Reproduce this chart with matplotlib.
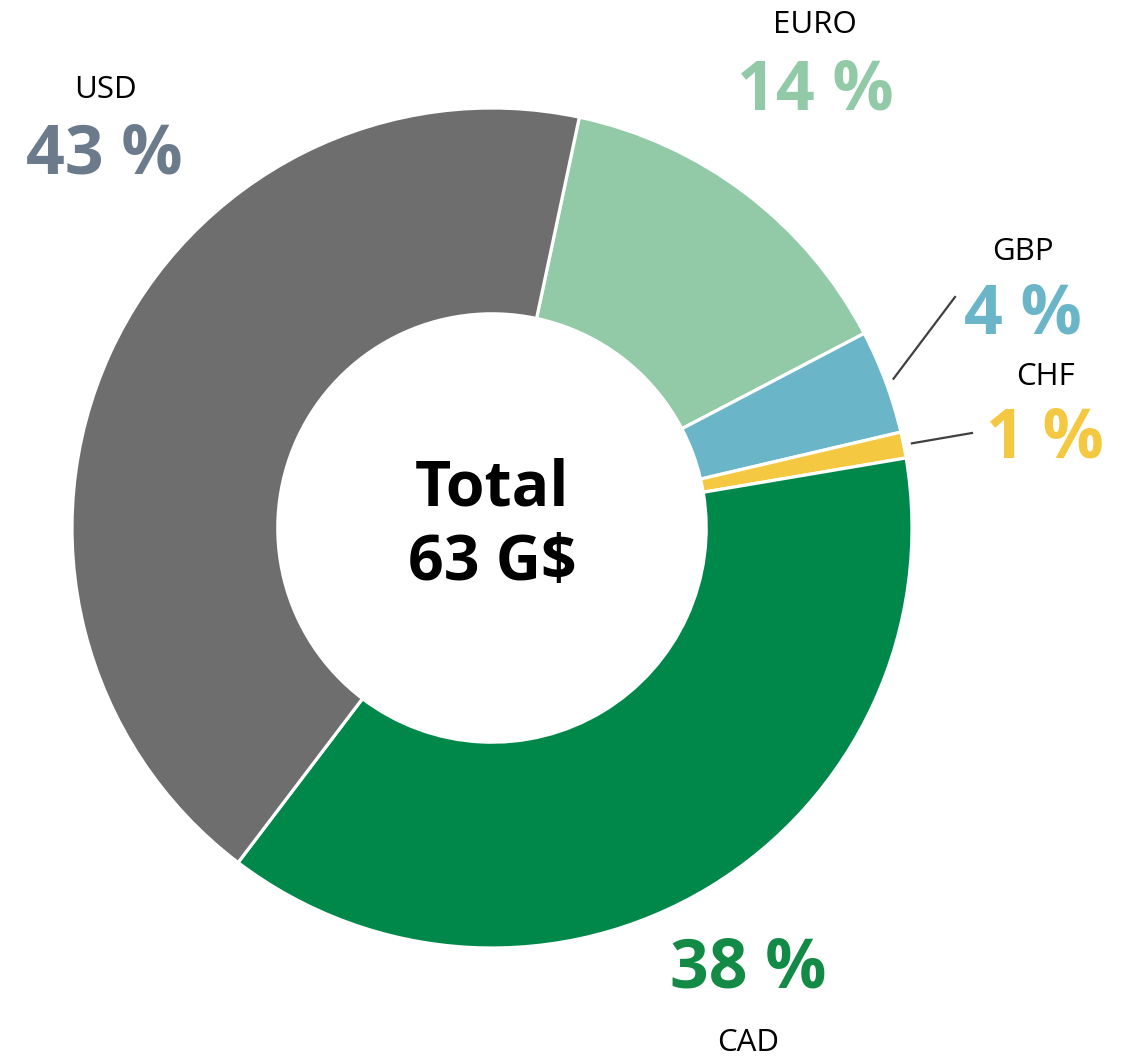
import numpy as np
import matplotlib.pyplot as plt

# parts du total, dans l'ordre horaire à partir du haut
devises = ["EURO", "GBP", "CHF", "CAD", "USD"]
parts = [14, 4, 1, 38, 43]
couleurs = ["#92CAA8", "#6BB5C8", "#F5C842", "#00884A", "#6E6E6E"]
couleurs_txt = ["#92CAA8", "#6BB5C8", "#F5C842", "#138A45", "#6C7B8B"]
total_txt = "Total\n63 G$"

plt.rcParams["font.family"] = ["Open Sans", "DejaVu Sans"]

W, H = 1127, 1060
fig = plt.figure(figsize=(W / 100, H / 100), dpi=100)
ax = fig.add_axes([0, 0, 1, 1])

cx, cy, R = 492, H - 528, 420
start = 78
wedges, _ = ax.pie(
    parts, colors=couleurs, startangle=start, counterclock=False,
    center=(cx, cy), radius=R, frame=True,
    wedgeprops=dict(width=R * 0.49, edgecolor="white", linewidth=2.3),
)
ax.set_xlim(0, W)
ax.set_ylim(0, H)
ax.set_aspect("equal")
ax.axis("off")

ax.text(cx, cy + 2, total_txt, ha="center", va="center", fontsize=45,
        fontweight="bold", color="black", linespacing=1.25)

# positions des étiquettes (nom, pourcentage) en pixels image
pos_nom = {"USD": (105, 90), "EURO": (815, 25), "GBP": (1023, 252),
           "CHF": (1046, 377), "CAD": (748, 1043)}
pos_pct = {"USD": (104, 155), "EURO": (815, 91), "GBP": (1023, 316),
           "CHF": (1045, 440), "CAD": (748, 969)}
fin_ligne = {"GBP": (955, 297), "CHF": (972, 433)}

for i, d in enumerate(devises):
    nx, ny = pos_nom[d]
    px, py = pos_pct[d]
    ax.text(nx, H - ny, d, ha="center", va="center", fontsize=22.5, color="black")
    ax.text(px, H - py, f"{parts[i]} %", ha="center", va="center", fontsize=49,
            fontweight="bold", color=couleurs_txt[i])
    if d in fin_ligne:
        w = wedges[i]
        mid = np.deg2rad((w.theta1 + w.theta2) / 2)
        x0 = cx + 1.02 * R * np.cos(mid)
        y0 = cy + 1.02 * R * np.sin(mid)
        ex, ey = fin_ligne[d]
        ax.plot([x0, ex], [y0, H - ey], color="#404040", linewidth=1.6)

fig.savefig("out.png", dpi=100)
